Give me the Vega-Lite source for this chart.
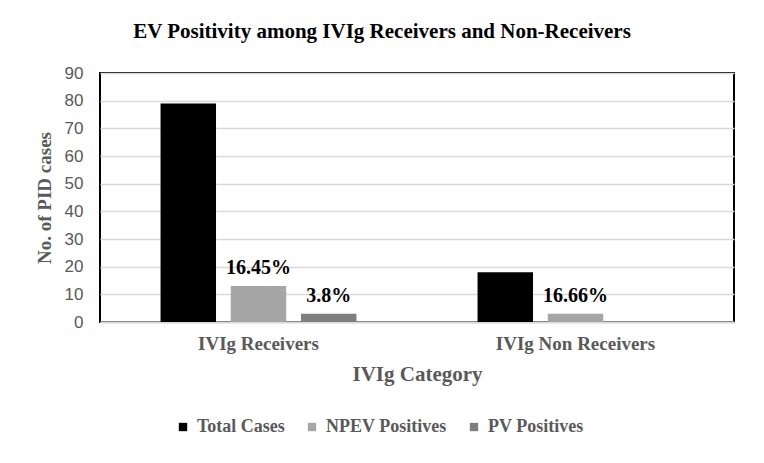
{
  "$schema": "https://vega.github.io/schema/vega-lite/v6.json",
  "width": 634,
  "height": 249,
  "autosize": {"type": "none"},
  "padding": {"left": 100, "top": 73, "right": 30, "bottom": 141},
  "background": "white",
  "title": {
    "text": "EV Positivity among IVIg Receivers and Non-Receivers",
    "font": "Liberation Serif",
    "fontSize": 21,
    "fontWeight": "bold",
    "color": "#000000",
    "anchor": "middle",
    "dx": -35,
    "offset": 22
  },
  "data": {
    "values": [
      {"category": "IVIg Receivers", "series": "Total Cases", "cases": 79, "label": ""},
      {"category": "IVIg Receivers", "series": "NPEV Positives", "cases": 13, "label": "16.45%"},
      {"category": "IVIg Receivers", "series": "PV Positives", "cases": 3, "label": "3.8%"},
      {"category": "IVIg Non Receivers", "series": "Total Cases", "cases": 18, "label": ""},
      {"category": "IVIg Non Receivers", "series": "NPEV Positives", "cases": 3, "label": "16.66%"},
      {"category": "IVIg Non Receivers", "series": "PV Positives", "cases": 0, "label": ""}
    ]
  },
  "encoding": {
    "x": {
      "field": "category",
      "type": "nominal",
      "sort": ["IVIg Receivers", "IVIg Non Receivers"],
      "scale": {"paddingInner": 0.382, "paddingOuter": 0.191},
      "axis": {
        "title": "IVIg Category",
        "labelAngle": 0,
        "labelFont": "Liberation Serif",
        "labelFontSize": 19,
        "labelFontWeight": "bold",
        "labelColor": "#595959",
        "labelPadding": 12,
        "ticks": false,
        "domainColor": "#d9d9d9",
        "domainWidth": 2,
        "titleFont": "Liberation Serif",
        "titleFontSize": 21,
        "titleFontWeight": "bold",
        "titleColor": "#595959",
        "titlePadding": 10
      }
    },
    "xOffset": {
      "field": "series",
      "type": "nominal",
      "sort": ["Total Cases", "NPEV Positives", "PV Positives"],
      "scale": {"paddingInner": 0.21, "paddingOuter": 0}
    },
    "y": {
      "field": "cases",
      "type": "quantitative",
      "scale": {"domain": [0, 90]},
      "axis": {
        "title": "No. of PID cases",
        "values": [0, 10, 20, 30, 40, 50, 60, 70, 80, 90],
        "labelFont": "Liberation Sans",
        "labelFontSize": 17,
        "labelColor": "#595959",
        "labelPadding": 17,
        "ticks": false,
        "domain": false,
        "gridColor": "#d9d9d9",
        "gridWidth": 1.5,
        "titleFont": "Liberation Serif",
        "titleFontSize": 19,
        "titleFontWeight": "bold",
        "titleColor": "#595959",
        "titlePadding": 10
      }
    }
  },
  "layer": [
    {
      "mark": {"type": "bar"},
      "encoding": {
        "color": {
          "field": "series",
          "type": "nominal",
          "sort": ["Total Cases", "NPEV Positives", "PV Positives"],
          "scale": {
            "domain": ["Total Cases", "NPEV Positives", "PV Positives"],
            "range": ["#000000", "#a6a6a6", "#7f7f7f"]
          },
          "legend": {
            "title": null,
            "orient": "none",
            "direction": "horizontal",
            "legendX": 74,
            "legendY": 345,
            "symbolType": "square",
            "symbolSize": 70,
            "symbolStrokeWidth": 0,
            "labelFont": "Liberation Serif",
            "labelFontSize": 18,
            "labelFontWeight": "bold",
            "labelColor": "#595959",
            "labelOffset": 5,
            "columnPadding": 18
          }
        }
      }
    },
    {
      "mark": {
        "type": "text",
        "baseline": "bottom",
        "dy": -8,
        "font": "Liberation Serif",
        "fontSize": 20,
        "fontWeight": "bold",
        "color": "#000000"
      },
      "encoding": {
        "text": {"field": "label"}
      }
    }
  ],
  "config": {
    "view": {"stroke": "#000000", "strokeWidth": 2}
  }
}
